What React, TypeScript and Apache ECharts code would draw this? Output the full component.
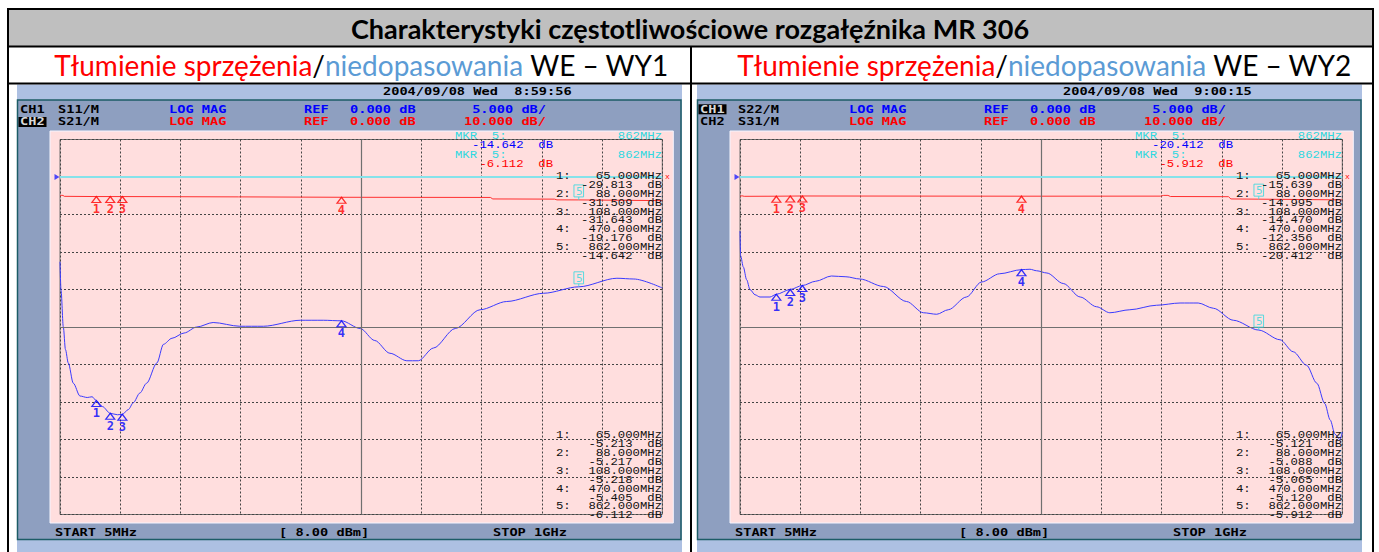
import React, { useEffect, useRef } from "react";
import * as echarts from "echarts";

// ---------- data ----------
const startMHz = 5;
const stopMHz = 1000;
const ch1RefDb = 0;
const ch1DbPerDiv = 5;
const ch2RefDb = 0;
const ch2DbPerDiv = 10;
const refPosDiv = 9; // reference line position, divisions from bottom
const divisions = 10;

const markerFreqMHz = [65, 88, 108, 470, 862];
const wy1S11Mkr = [-29.813, -31.509, -31.643, -19.176, -14.642];
const wy1S21Mkr = [-5.213, -5.217, -5.218, -5.405, -6.112];
const wy2S22Mkr = [-15.639, -14.995, -14.47, -12.356, -20.412];
const wy2S31Mkr = [-5.121, -5.088, -5.065, -5.12, -5.912];

const s11Freq = [5, 6.7, 10.5, 14, 18.7, 27, 38, 50, 58, 65, 75, 88, 100, 108, 118, 126, 137, 148, 165, 176, 190, 210, 231, 258, 302, 341, 402, 440, 470, 501, 525, 550, 578, 597, 622, 658, 699, 743, 804, 862, 925, 953, 1000];
const s11Db = [-11.3, -15.1, -20, -23, -24.8, -27.5, -29.2, -29.4, -29.3, -29.813, -30.6, -31.509, -31.7, -31.643, -31.0, -30.1, -28.8, -27.5, -24.8, -22.3, -21.5, -20.8, -20, -19.4, -19.9, -19.9, -19.1, -19.1, -19.176, -20.2, -21.8, -23.5, -24.5, -24.5, -22.8, -20.2, -17.7, -16.6, -15.5, -14.642, -13.5, -13.6, -14.8];

const s21Freq = [5, 7, 10, 12, 65, 88, 108, 300, 470, 716, 720, 822, 826, 862, 1000];
const s21Db = [-5.1, -4.9, -4.9, -5.15, -5.213, -5.217, -5.218, -5.3, -5.405, -5.45, -5.85, -5.9, -6.1, -6.112, -6.3];

const s22Freq = [5, 6, 10.5, 16, 21.5, 29.8, 38, 54.5, 65, 88, 108, 130, 156, 180, 203, 242, 280, 308, 330, 349, 379, 404, 434, 470, 484, 495, 512, 539, 567, 594, 616, 649, 693, 732, 762, 787, 820, 862, 897, 919, 941, 958, 971, 980, 988, 996, 1000];
const s22Db = [-7.2, -10.5, -12, -13.7, -15, -15.7, -16, -16, -15.639, -14.995, -14.47, -13.9, -13.2, -13.3, -13.6, -14.6, -16.6, -18.1, -18.3, -17.7, -16, -14, -12.9, -12.356, -12.3, -12.5, -12.8, -14.2, -16, -17.3, -18.1, -17.7, -17.1, -16.8, -16.8, -17.5, -19.1, -20.412, -21.7, -23.3, -25.1, -27.5, -30.2, -32.4, -34.3, -35, -34];

const s31Freq = [5, 8, 12, 65, 88, 108, 470, 700, 705, 712, 716, 812, 816, 862, 1000];
const s31Db = [-5.2, -5.0, -5.15, -5.121, -5.088, -5.065, -5.12, -5.1, -4.9, -4.9, -5.2, -5.25, -5.85, -5.912, -6.1];

const titleText = "Charakterystyki częstotliwościowe rozgałęźnika MR 306";
const subRed = "Tłumienie sprzężenia";
const subBlue = "niedopasowania";

const panels = [
  {
    dx: 0, subX: 361.5, port: "WE – WY1", date: "2004/09/08 Wed  8:59:56",
    ch1Param: "S11/M", ch2Param: "S21/M", activeCh: 2,
    blueF: s11Freq, blueDb: s11Db, redF: s21Freq, redDb: s21Db, mB: wy1S11Mkr, mR: wy1S21Mkr,
  },
  {
    dx: 680, subX: 1044.5, port: "WE – WY2", date: "2004/09/08 Wed  9:00:15",
    ch1Param: "S22/M", ch2Param: "S31/M", activeCh: 1,
    blueF: s22Freq, blueDb: s22Db, redF: s31Freq, redDb: s31Db, mB: wy2S22Mkr, mR: wy2S31Mkr,
  },
];

// ---------- styles ----------
const BLUE = "#0000ff";
const RED = "#ff0000";
const CYAN = "#2fd8e0";
const TRACE_BLUE = "#3b3bff";
const TRACE_RED = "#ff3030";
const HFONT = 'bold 10.5px "DejaVu Sans Mono", monospace';
const HSCALE = 1.3;
const LFONT = '10.5px "Liberation Mono", monospace';
const LSCALE = 1.17;

function txt(x: number, y: number, text: string, fill: string, font: string, scaleX: number, align = "left") {
  return {
    type: "text", x, y, scaleX, z: 100, silent: true,
    style: { text, fill, font, textAlign: align, textVerticalAlign: "middle", align, verticalAlign: "middle" },
  };
}
function rect(x: number, y: number, w: number, h: number, fill: string, z = -10, stroke?: string, lw = 0) {
  return {
    type: "rect", z, silent: true, shape: { x, y, width: w, height: h },
    style: stroke ? { fill, stroke, lineWidth: lw } : { fill },
  };
}

function buildOption() {
  const graphics: any[] = [];
  // table
  graphics.push(rect(8, 9, 1365, 37, "#bfbfbf", -20));
  graphics.push(rect(7, 8, 1367, 2, "#000", 50));
  graphics.push(rect(7, 8, 2, 544, "#000", 50));
  graphics.push(rect(1372, 8, 2, 544, "#000", 50));
  graphics.push(rect(7, 45.5, 1367, 2, "#000", 50));
  graphics.push(rect(7, 82.5, 1367, 2, "#000", 50));
  graphics.push(rect(690, 46, 2, 506, "#000", 50));
  graphics.push({
    type: "text", x: 690, y: 28, z: 100, silent: true,
    style: { text: titleText, fill: "#000", font: 'bold 27px Lato, "Open Sans", sans-serif', textAlign: "center", textVerticalAlign: "middle", align: "center", verticalAlign: "middle" },
  });

  const grids: any[] = [];
  const xAxes: any[] = [];
  const yAxes: any[] = [];
  const series: any[] = [];

  const blueMin = ch1RefDb - refPosDiv * ch1DbPerDiv;
  const blueMax = ch1RefDb + (divisions - refPosDiv) * ch1DbPerDiv;
  const redMin = ch2RefDb - refPosDiv * ch2DbPerDiv;
  const redMax = ch2RefDb + (divisions - refPosDiv) * ch2DbPerDiv;
  const centerF = (startMHz + stopMHz) / 2;
  const centerDb = (blueMin + blueMax) / 2;

  panels.forEach((p, pi) => {
    const dx = p.dx;
    // subtitle
    graphics.push({
      type: "text", x: p.subX, y: 65, z: 100, silent: true,
      style: {
        text: `{r|${subRed}}{k|/}{b|${subBlue}}{k| ${p.port}}`,
        textAlign: "center", textVerticalAlign: "middle", align: "center", verticalAlign: "middle",
        font: '28px Lato, "Open Sans", sans-serif',
        rich: {
          r: { fill: "#ff0000", color: "#ff0000", fontSize: 28, fontFamily: "Lato" },
          k: { fill: "#000000", color: "#000000", fontSize: 28, fontFamily: "Lato" },
          b: { fill: "#5b9bd5", color: "#5b9bd5", fontSize: 28, fontFamily: "Lato" },
        },
      },
    });
    // instrument panel
    graphics.push(rect(17 + dx, 84.5, 665, 467.5, "#adc0e2", -20));
    graphics.push(rect(17.5 + dx, 100, 663.5, 439.5, "#8e9fc0", -19, "#1c5c66", 1.5));
    graphics.push(rect(50 + dx, 131, 623.3, 392, "#ffdede", -18, "#f4f4ff", 1));

    // header
    graphics.push(txt(383 + dx, 91.5, p.date, "#000", HFONT, HSCALE));
    const rows = [
      { y: 109.3, ch: "CH1", par: p.ch1Param, col: BLUE, ref: ch1RefDb, div: ch1DbPerDiv, active: p.activeCh === 1 },
      { y: 122, ch: "CH2", par: p.ch2Param, col: RED, ref: ch2RefDb, div: ch2DbPerDiv, active: p.activeCh === 2 },
    ];
    rows.forEach((r) => {
      if (r.active) graphics.push(rect(18.5 + dx, r.y - 5, 28, 10, "#000", 90));
      graphics.push(txt(20 + dx, r.y, r.ch, r.active ? "#d8d8d8" : "#000", HFONT, HSCALE));
      graphics.push(txt(58 + dx, r.y, r.par, "#000", HFONT, HSCALE));
      graphics.push(txt(169 + dx, r.y, "LOG MAG", r.col, HFONT, HSCALE));
      graphics.push(txt(304 + dx, r.y, "REF", r.col, HFONT, HSCALE));
      graphics.push(txt(350 + dx, r.y, `${r.ref.toFixed(3)} dB`, r.col, HFONT, HSCALE));
      graphics.push(txt(546 + dx, r.y, `${r.div.toFixed(3)} dB/`, r.col, HFONT, HSCALE, "right"));
    });
    // bottom
    graphics.push(txt(55 + dx, 533, `START ${startMHz}MHz`, "#000", HFONT, HSCALE));
    graphics.push(txt(279 + dx, 533, "[ 8.00 dBm]", "#000", HFONT, HSCALE));
    graphics.push(txt(493 + dx, 533, `STOP ${stopMHz / 1000}GHz`, "#000", HFONT, HSCALE));

    // active marker readout
    const n = markerFreqMHz.length;
    const fA = markerFreqMHz[n - 1];
    graphics.push(txt(455 + dx, 136, `MKR  ${n}:`, CYAN, LFONT, LSCALE));
    graphics.push(txt(662 + dx, 136, `${fA}MHz`, CYAN, LFONT, LSCALE, "right"));
    graphics.push(txt(553 + dx, 145, `${p.mB[n - 1].toFixed(3)}  dB`, BLUE, LFONT, LSCALE, "right"));
    graphics.push(txt(455 + dx, 155, `MKR  ${n}:`, CYAN, LFONT, LSCALE));
    graphics.push(txt(662 + dx, 155, `${fA}MHz`, CYAN, LFONT, LSCALE, "right"));
    graphics.push(txt(553 + dx, 164, `${p.mR[n - 1].toFixed(3)}  dB`, RED, LFONT, LSCALE, "right"));
    graphics.push(txt(665 + dx, 176.5, "x", RED, '8px "Liberation Mono", monospace', 1));

    // marker lists
    const lists = [
      { y0: 175.7, vals: p.mB },
      { y0: 435, vals: p.mR },
    ];
    lists.forEach((l) => {
      markerFreqMHz.forEach((f, i) => {
        const y1 = l.y0 + 2 * i * 8.9;
        const y2 = y1 + 8.9;
        graphics.push(txt(556 + dx, y1, `${i + 1}:`, "#111", LFONT, LSCALE));
        graphics.push(txt(662 + dx, y1, `${f.toFixed(3)}MHz`, "#111", LFONT, LSCALE, "right"));
        graphics.push(txt(662 + dx, y2, `${l.vals[i].toFixed(3)}  dB`, "#111", LFONT, LSCALE, "right"));
      });
    });

    // grid & axes
    grids.push({
      left: 60 + dx, top: 139.5, width: 602.3, height: 375,
      show: true, borderColor: "#707070", borderWidth: 1, backgroundColor: "transparent", containLabel: false,
    });
    const dotted = { show: true, lineStyle: { color: "#444", width: 1, type: [2, 2] } };
    xAxes.push({ type: "value", gridIndex: pi, min: startMHz, max: stopMHz, show: false });
    xAxes.push({
      type: "value", gridIndex: pi, min: 0, max: divisions, interval: 1,
      axisLine: { show: false }, axisTick: { show: false }, axisLabel: { show: false }, splitLine: dotted,
    });
    yAxes.push({
      type: "value", gridIndex: pi, min: blueMin, max: blueMax, interval: ch1DbPerDiv,
      axisLine: { show: false }, axisTick: { show: false }, axisLabel: { show: false }, splitLine: dotted,
    });
    yAxes.push({ type: "value", gridIndex: pi, min: redMin, max: redMax, show: false });

    const xi = pi * 2;
    const yb = pi * 2;
    const yr = pi * 2 + 1;
    const solid = { color: "#707070", width: 1.2, type: "solid" };
    series.push({
      type: "line", xAxisIndex: xi, yAxisIndex: yb, silent: true, showSymbol: false, symbol: "none",
      smooth: 0.3, smoothMonotone: "x",
      data: p.blueF.map((f, i) => [f, p.blueDb[i]]),
      lineStyle: { color: TRACE_BLUE, width: 1 }, z: 4,
      markLine: {
        silent: true, symbol: ["none", "none"], label: { show: false }, animation: false,
        data: [
          { yAxis: centerDb, lineStyle: solid },
          { xAxis: centerF, lineStyle: solid },
          { yAxis: ch1RefDb, lineStyle: { color: "#86e2ea", width: 2, type: "solid" } },
        ],
      },
    });
    series.push({
      type: "line", xAxisIndex: xi, yAxisIndex: yr, silent: true, showSymbol: false, symbol: "none",
      data: p.redF.map((f, i) => [f, p.redDb[i]]),
      lineStyle: { color: TRACE_RED, width: 1 }, z: 4,
    });
    const tri = (vals: number[], yi: number, col: string) => ({
      type: "scatter", xAxisIndex: xi, yAxisIndex: yi, silent: true,
      data: markerFreqMHz.slice(0, n - 1).map((f, i) => [f, vals[i]]),
      symbol: "triangle", symbolSize: [9, 6], symbolOffset: [0, 3],
      itemStyle: { color: "rgba(0,0,0,0)", borderColor: col, borderWidth: 1.2 },
      label: {
        show: true, position: "bottom", distance: 0, color: col,
        fontFamily: "DejaVu Sans Mono", fontWeight: "bold", fontSize: 12,
        formatter: (prm: any) => String(prm.dataIndex + 1),
      },
      emphasis: { disabled: true }, z: 6,
    });
    series.push(tri(p.mB, yb, BLUE));
    series.push(tri(p.mR, yr, RED));
    const act = (vals: number[], yi: number) => ({
      type: "scatter", xAxisIndex: xi, yAxisIndex: yi, silent: true,
      data: [[markerFreqMHz[n - 1], vals[n - 1]]],
      symbol: "rect", symbolSize: [1, 3], symbolOffset: [0, -1.5],
      itemStyle: { color: CYAN },
      label: {
        show: true, position: "top", distance: 0, color: CYAN, formatter: String(n),
        fontFamily: "DejaVu Sans Mono", fontSize: 11, lineHeight: 11,
        borderColor: CYAN, borderWidth: 1, padding: [1, 1, 0, 2],
      },
      emphasis: { disabled: true }, z: 6,
    });
    series.push(act(p.mB, yb));
    series.push(act(p.mR, yr));
    series.push({
      type: "scatter", xAxisIndex: xi, yAxisIndex: yb, silent: true,
      data: [[startMHz, ch1RefDb]],
      symbol: "path://M0,0 L5,3 L0,6 Z", symbolSize: [5, 6], symbolOffset: [-3, 0],
      itemStyle: { color: "#2020ff" }, emphasis: { disabled: true }, z: 6,
    });
  });

  return {
    animation: false,
    backgroundColor: "#ffffff",
    grid: grids,
    xAxis: xAxes,
    yAxis: yAxes,
    series,
    graphic: { elements: graphics },
  };
}

export default function App() {
  const ref = useRef<HTMLDivElement>(null);
  useEffect(() => {
    if (!ref.current) return;
    const chart = echarts.init(ref.current, undefined, { renderer: "svg" });
    chart.setOption(buildOption() as any);
    return () => chart.dispose();
  }, []);
  return <div ref={ref} style={{ position: "absolute", left: 0, top: 0, width: 1379, height: 552 }} />;
}
